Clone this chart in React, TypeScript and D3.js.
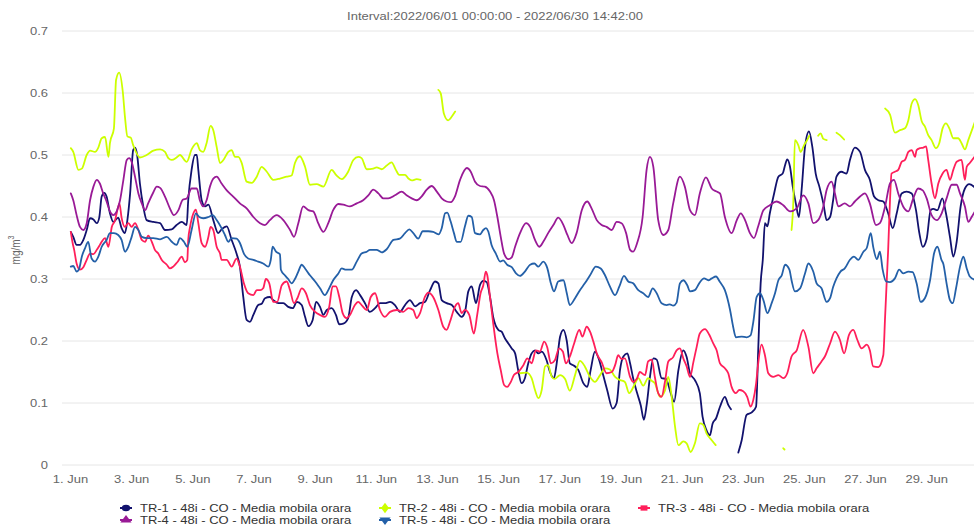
import React from "react";
import * as d3 from "d3";

type P = [number, number] | null;

const TITLE = "Interval:2022/06/01 00:00:00 - 2022/06/30 14:42:00";
const Y_TICKS = [0, 0.1, 0.2, 0.3, 0.4, 0.5, 0.6, 0.7];
const X_TICK_DAYS = [0, 2, 4, 6, 8, 10, 12, 14, 16, 18, 20, 22, 24, 26, 28];
const X_TICK_LABELS = X_TICK_DAYS.map((d) => `${d + 1}. Jun`);

const NAMES = [
  "TR-1 - 48i - CO - Media mobila orara",
  "TR-2 - 48i - CO - Media mobila orara",
  "TR-3 - 48i - CO - Media mobila orara",
  "TR-4 - 48i - CO - Media mobila orara",
  "TR-5 - 48i - CO - Media mobila orara",
];
const COLORS = ["#12126e", "#ccff00", "#ff1f5a", "#991a96", "#2460a8"];
const SYMBOLS = ["circle", "diamond", "square", "triangle", "triangle-down"];

// [day offset from 1 Jun 00:00, mg/m3]
const TR1: P[] = [[0.01,0.376],[0.09,0.368],[0.20,0.355],[0.31,0.355],[0.42,0.363],[0.53,0.379],[0.64,0.398],[0.75,0.396],[0.86,0.39],[0.94,0.399],[1.02,0.433],[1.10,0.439],[1.18,0.433],[1.29,0.406],[1.40,0.392],[1.56,0.399],[1.67,0.382],[1.78,0.374],[1.86,0.395],[1.95,0.438],[2.05,0.508],[2.11,0.512],[2.18,0.50],[2.27,0.454],[2.38,0.417],[2.49,0.395],[2.71,0.392],[2.93,0.39],[3.09,0.379],[3.31,0.38],[3.47,0.387],[3.64,0.392],[3.80,0.387],[3.85,0.427],[3.96,0.476],[4.07,0.50],[4.13,0.50],[4.18,0.476],[4.29,0.427],[4.40,0.417],[4.51,0.42],[4.67,0.395],[4.83,0.374],[4.94,0.38],[5.11,0.385],[5.27,0.363],[5.43,0.341],[5.54,0.32],[5.65,0.271],[5.76,0.234],[5.87,0.231],[5.98,0.242],[6.14,0.258],[6.25,0.26],[6.36,0.269],[6.52,0.271],[6.63,0.266],[6.80,0.261],[6.96,0.261],[7.12,0.255],[7.27,0.253],[7.40,0.263],[7.56,0.258],[7.67,0.239],[7.78,0.224],[7.92,0.234],[8.03,0.263],[8.16,0.255],[8.27,0.242],[8.38,0.25],[8.54,0.253],[8.68,0.242],[8.79,0.227],[8.92,0.228],[9.08,0.237],[9.20,0.271],[9.34,0.282],[9.47,0.274],[9.63,0.261],[9.79,0.247],[9.96,0.253],[10.12,0.261],[10.28,0.261],[10.45,0.263],[10.61,0.258],[10.77,0.247],[10.94,0.258],[11.10,0.266],[11.27,0.256],[11.43,0.261],[11.59,0.263],[11.76,0.282],[11.92,0.296],[12.03,0.293],[12.14,0.266],[12.30,0.261],[12.47,0.258],[12.63,0.247],[12.79,0.239],[12.90,0.247],[13.01,0.28],[13.12,0.288],[13.26,0.261],[13.39,0.29],[13.50,0.297],[13.61,0.295],[13.72,0.271],[13.83,0.237],[13.99,0.218],[14.10,0.215],[14.21,0.204],[14.32,0.196],[14.43,0.188],[14.54,0.18],[14.64,0.153],[14.75,0.132],[14.86,0.14],[14.97,0.164],[15.08,0.18],[15.19,0.185],[15.30,0.18],[15.41,0.183],[15.57,0.169],[15.68,0.15],[15.81,0.14],[15.90,0.164],[16.01,0.207],[16.12,0.218],[16.23,0.2],[16.33,0.164],[16.44,0.161],[16.61,0.153],[16.77,0.132],[16.90,0.126],[17.01,0.153],[17.15,0.183],[17.29,0.169],[17.42,0.145],[17.55,0.121],[17.73,0.091],[17.86,0.10],[17.97,0.153],[18.08,0.175],[18.21,0.18],[18.30,0.164],[18.40,0.14],[18.53,0.116],[18.65,0.096],[18.75,0.073],[18.84,0.096],[18.95,0.142],[19.06,0.172],[19.17,0.17],[19.33,0.14],[19.47,0.139],[19.63,0.116],[19.74,0.102],[19.88,0.153],[20.04,0.185],[20.15,0.174],[20.26,0.148],[20.42,0.137],[20.58,0.116],[20.67,0.078],[20.80,0.056],[20.91,0.048],[21.00,0.067],[21.11,0.075],[21.24,0.094],[21.40,0.11],[21.51,0.097],[21.60,0.09],null,[21.84,0.02],[21.95,0.04],[22.11,0.081],[22.28,0.085],[22.42,0.094],[22.49,0.185],[22.57,0.293],[22.64,0.331],[22.71,0.39],[22.79,0.385],[22.87,0.406],[23.01,0.438],[23.15,0.465],[23.29,0.47],[23.37,0.484],[23.44,0.493],[23.53,0.481],[23.62,0.449],[23.72,0.422],[23.82,0.40],[23.91,0.444],[24.02,0.513],[24.15,0.538],[24.26,0.513],[24.37,0.47],[24.49,0.449],[24.62,0.422],[24.73,0.395],[24.84,0.40],[24.94,0.427],[25.05,0.465],[25.21,0.473],[25.38,0.47],[25.49,0.492],[25.65,0.512],[25.82,0.505],[25.98,0.476],[26.14,0.46],[26.28,0.433],[26.42,0.427],[26.58,0.425],[26.74,0.406],[26.89,0.382],[27.02,0.406],[27.18,0.438],[27.34,0.441],[27.51,0.438],[27.65,0.411],[27.76,0.374],[27.87,0.352],[28.00,0.365],[28.13,0.411],[28.22,0.413],[28.35,0.411],[28.51,0.43],[28.63,0.406],[28.76,0.368],[28.87,0.336],[28.98,0.36],[29.11,0.417],[29.25,0.446],[29.39,0.453],[29.61,0.446]];

const TR2: P[] = [[0.01,0.511],[0.09,0.505],[0.26,0.476],[0.37,0.478],[0.53,0.50],[0.64,0.507],[0.80,0.505],[0.91,0.512],[1.02,0.527],[1.13,0.529],[1.24,0.497],[1.29,0.519],[1.42,0.543],[1.49,0.621],[1.59,0.633],[1.71,0.602],[1.78,0.562],[1.86,0.53],[1.97,0.528],[2.05,0.516],[2.27,0.496],[2.49,0.50],[2.71,0.507],[2.93,0.509],[3.09,0.505],[3.20,0.495],[3.31,0.492],[3.47,0.496],[3.58,0.50],[3.80,0.489],[3.96,0.509],[4.13,0.519],[4.23,0.508],[4.34,0.505],[4.45,0.519],[4.58,0.547],[4.67,0.54],[4.78,0.513],[4.89,0.487],[5.00,0.492],[5.16,0.505],[5.27,0.508],[5.38,0.497],[5.49,0.497],[5.60,0.487],[5.76,0.457],[5.93,0.455],[6.09,0.465],[6.25,0.481],[6.42,0.473],[6.63,0.46],[6.85,0.462],[7.07,0.465],[7.23,0.467],[7.34,0.487],[7.50,0.498],[7.67,0.481],[7.83,0.452],[8.05,0.453],[8.27,0.449],[8.54,0.476],[8.70,0.467],[8.87,0.461],[9.08,0.473],[9.25,0.492],[9.41,0.497],[9.52,0.495],[9.69,0.477],[9.90,0.478],[10.01,0.48],[10.18,0.477],[10.34,0.483],[10.50,0.488],[10.64,0.476],[10.75,0.468],[10.94,0.468],[11.05,0.462],[11.16,0.459],[11.32,0.461],[11.45,0.46],null,[12.03,0.605],[12.11,0.599],[12.21,0.567],[12.35,0.556],[12.47,0.562],[12.58,0.570],null,[14.70,0.148],[14.92,0.149],[15.08,0.14],[15.19,0.121],[15.30,0.108],[15.41,0.121],[15.52,0.159],[15.62,0.161],[15.74,0.142],[15.84,0.139],[16.01,0.145],[16.17,0.139],[16.33,0.12],[16.50,0.145],[16.66,0.168],[16.82,0.159],[16.99,0.142],[17.15,0.134],[17.32,0.145],[17.48,0.156],[17.64,0.154],[17.81,0.142],[17.97,0.137],[18.13,0.134],[18.27,0.116],[18.46,0.131],[18.57,0.14],[18.73,0.128],[18.89,0.14],[19.00,0.136],[19.11,0.132],[19.28,0.11],[19.44,0.12],[19.55,0.142],[19.66,0.11],[19.77,0.062],[19.88,0.032],[20.04,0.038],[20.15,0.035],[20.28,0.021],[20.42,0.035],[20.58,0.067],[20.69,0.065],[20.80,0.051],[20.97,0.04],[21.10,0.032],null,[23.31,0.027],[23.35,0.025],null,[23.58,0.379],[23.64,0.427],[23.69,0.524],[23.80,0.516],[23.88,0.505],[23.99,0.516],[24.09,0.524],[24.16,0.531],null,[24.45,0.531],[24.53,0.535],[24.62,0.526],[24.73,0.524],null,[25.05,0.536],[25.16,0.532],[25.30,0.525],null,[26.64,0.575],[26.80,0.565],[26.96,0.536],[27.13,0.54],[27.29,0.543],[27.40,0.556],[27.51,0.583],[27.62,0.59],[27.72,0.581],[27.84,0.554],[27.94,0.546],[28.05,0.532],[28.16,0.524],[28.30,0.511],[28.41,0.519],[28.52,0.543],[28.63,0.551],[28.74,0.543],[28.87,0.527],[29.03,0.527],[29.14,0.519],[29.25,0.509],[29.36,0.524],[29.61,0.558]];

const TR3: P[] = [[0.01,0.376],[0.07,0.358],[0.12,0.347],[0.20,0.325],[0.31,0.315],[0.42,0.319],[0.53,0.331],[0.64,0.341],[0.75,0.34],[0.86,0.347],[0.96,0.355],[1.02,0.36],[1.13,0.366],[1.24,0.352],[1.35,0.384],[1.46,0.395],[1.51,0.406],[1.60,0.422],[1.67,0.399],[1.78,0.384],[1.89,0.39],[2.00,0.384],[2.11,0.39],[2.22,0.379],[2.33,0.363],[2.44,0.36],[2.54,0.37],[2.66,0.36],[2.76,0.347],[2.87,0.341],[2.98,0.331],[3.15,0.323],[3.25,0.317],[3.36,0.32],[3.49,0.327],[3.64,0.336],[3.74,0.327],[3.82,0.331],[3.85,0.363],[3.91,0.384],[4.02,0.406],[4.10,0.412],[4.18,0.39],[4.29,0.358],[4.40,0.352],[4.51,0.368],[4.58,0.384],[4.67,0.379],[4.78,0.352],[4.89,0.341],[4.94,0.331],[5.11,0.331],[5.27,0.32],[5.43,0.333],[5.54,0.32],[5.67,0.293],[5.81,0.277],[5.98,0.274],[6.09,0.282],[6.20,0.282],[6.30,0.285],[6.39,0.30],[6.50,0.293],[6.63,0.263],[6.76,0.263],[6.91,0.29],[7.07,0.296],[7.18,0.282],[7.31,0.261],[7.42,0.269],[7.56,0.285],[7.70,0.277],[7.83,0.258],[8.00,0.247],[8.16,0.242],[8.32,0.239],[8.46,0.255],[8.57,0.288],[8.68,0.288],[8.79,0.271],[8.90,0.245],[9.03,0.237],[9.14,0.242],[9.30,0.258],[9.41,0.263],[9.52,0.258],[9.69,0.25],[9.82,0.271],[9.96,0.277],[10.12,0.25],[10.28,0.239],[10.45,0.247],[10.67,0.25],[10.88,0.247],[11.05,0.253],[11.21,0.25],[11.32,0.237],[11.43,0.245],[11.59,0.271],[11.70,0.278],[11.86,0.271],[12.03,0.25],[12.19,0.223],[12.30,0.218],[12.41,0.231],[12.57,0.255],[12.68,0.261],[12.79,0.245],[12.90,0.25],[13.04,0.242],[13.19,0.212],[13.30,0.242],[13.41,0.277],[13.50,0.29],[13.58,0.312],[13.63,0.306],[13.72,0.271],[13.81,0.234],[13.88,0.207],[13.96,0.18],[14.07,0.153],[14.18,0.129],[14.28,0.126],[14.40,0.134],[14.50,0.145],[14.64,0.15],[14.81,0.161],[14.94,0.172],[15.08,0.164],[15.22,0.185],[15.35,0.183],[15.49,0.199],[15.59,0.19],[15.71,0.164],[15.84,0.169],[15.98,0.188],[16.10,0.183],[16.20,0.164],[16.33,0.175],[16.47,0.196],[16.64,0.218],[16.74,0.207],[16.88,0.223],[16.99,0.215],[17.10,0.199],[17.21,0.18],[17.37,0.166],[17.53,0.148],[17.70,0.15],[17.81,0.161],[17.91,0.177],[18.02,0.171],[18.13,0.172],[18.30,0.142],[18.40,0.134],[18.52,0.139],[18.62,0.15],[18.79,0.145],[18.89,0.167],[19.01,0.17],[19.11,0.142],[19.22,0.116],[19.33,0.11],[19.44,0.134],[19.55,0.167],[19.71,0.174],[19.82,0.185],[19.93,0.188],[20.04,0.172],[20.15,0.159],[20.26,0.142],[20.37,0.166],[20.48,0.191],[20.58,0.212],[20.75,0.219],[20.89,0.21],[21.02,0.196],[21.13,0.185],[21.24,0.164],[21.40,0.156],[21.51,0.148],[21.62,0.126],[21.76,0.116],[21.87,0.121],[22.00,0.119],[22.13,0.11],[22.24,0.094],[22.33,0.105],[22.42,0.131],[22.49,0.164],[22.60,0.194],[22.71,0.177],[22.82,0.148],[22.98,0.142],[23.15,0.145],[23.31,0.14],[23.44,0.148],[23.58,0.175],[23.75,0.185],[23.96,0.218],[24.13,0.191],[24.29,0.148],[24.40,0.156],[24.56,0.167],[24.67,0.175],[24.84,0.196],[25.00,0.215],[25.16,0.202],[25.30,0.18],[25.46,0.21],[25.60,0.218],[25.73,0.202],[25.87,0.188],[26.04,0.194],[26.14,0.185],[26.25,0.159],[26.42,0.158],[26.58,0.177],[26.64,0.239],[26.70,0.304],[26.74,0.347],[26.80,0.427],[26.85,0.47],[26.96,0.473],[27.07,0.476],[27.18,0.489],[27.29,0.492],[27.40,0.505],[27.51,0.508],[27.62,0.497],[27.67,0.508],[27.78,0.511],[27.89,0.512],[27.98,0.514],[28.05,0.492],[28.16,0.454],[28.27,0.43],[28.38,0.454],[28.52,0.47],[28.65,0.476],[28.76,0.46],[28.87,0.476],[28.98,0.489],[29.14,0.492],[29.25,0.46],[29.31,0.481],[29.41,0.487],[29.61,0.50]];

const TR4: P[] = [[0.01,0.438],[0.09,0.427],[0.20,0.403],[0.31,0.384],[0.42,0.379],[0.53,0.39],[0.64,0.427],[0.75,0.449],[0.86,0.46],[0.96,0.454],[1.07,0.438],[1.18,0.425],[1.29,0.409],[1.40,0.403],[1.51,0.409],[1.62,0.427],[1.73,0.46],[1.84,0.492],[1.92,0.495],[2.00,0.489],[2.11,0.465],[2.22,0.438],[2.33,0.422],[2.44,0.411],[2.54,0.422],[2.71,0.44],[2.82,0.449],[2.93,0.447],[3.09,0.433],[3.25,0.414],[3.38,0.403],[3.53,0.411],[3.67,0.428],[3.80,0.43],[3.96,0.446],[4.13,0.446],[4.23,0.427],[4.34,0.417],[4.45,0.427],[4.56,0.449],[4.67,0.462],[4.78,0.465],[4.94,0.454],[5.11,0.443],[5.32,0.433],[5.54,0.422],[5.76,0.414],[5.98,0.40],[6.20,0.39],[6.36,0.387],[6.52,0.395],[6.74,0.403],[6.96,0.395],[7.18,0.379],[7.31,0.368],[7.45,0.39],[7.61,0.417],[7.78,0.411],[7.94,0.409],[8.10,0.39],[8.27,0.376],[8.43,0.39],[8.59,0.411],[8.76,0.421],[8.92,0.42],[9.14,0.417],[9.36,0.422],[9.57,0.427],[9.74,0.435],[9.90,0.444],[10.07,0.438],[10.23,0.43],[10.39,0.43],[10.61,0.435],[10.83,0.441],[10.99,0.435],[11.16,0.43],[11.32,0.427],[11.48,0.433],[11.65,0.444],[11.81,0.45],[11.98,0.441],[12.14,0.43],[12.30,0.425],[12.44,0.424],[12.57,0.433],[12.74,0.46],[12.96,0.479],[13.09,0.473],[13.23,0.457],[13.39,0.45],[13.55,0.449],[13.72,0.441],[13.85,0.427],[13.96,0.40],[14.07,0.368],[14.18,0.341],[14.32,0.332],[14.43,0.335],[14.54,0.352],[14.70,0.374],[14.90,0.39],[15.03,0.384],[15.19,0.363],[15.33,0.352],[15.46,0.36],[15.62,0.374],[15.79,0.387],[15.95,0.399],[16.12,0.387],[16.25,0.371],[16.39,0.358],[16.55,0.374],[16.72,0.411],[16.90,0.425],[17.04,0.414],[17.21,0.395],[17.37,0.387],[17.53,0.384],[17.70,0.379],[17.86,0.392],[18.02,0.39],[18.17,0.374],[18.30,0.347],[18.40,0.344],[18.53,0.358],[18.71,0.40],[18.84,0.476],[18.95,0.497],[19.06,0.481],[19.22,0.395],[19.39,0.371],[19.55,0.379],[19.71,0.422],[19.93,0.465],[20.09,0.449],[20.26,0.411],[20.42,0.403],[20.58,0.438],[20.78,0.464],[20.97,0.446],[21.13,0.441],[21.24,0.438],[21.40,0.40],[21.62,0.374],[21.79,0.395],[21.92,0.406],[22.06,0.395],[22.22,0.374],[22.35,0.366],[22.49,0.385],[22.66,0.411],[22.87,0.419],[23.09,0.425],[23.31,0.419],[23.53,0.409],[23.75,0.414],[23.96,0.435],[24.13,0.422],[24.29,0.39],[24.45,0.395],[24.62,0.417],[24.73,0.444],[24.89,0.457],[25.00,0.438],[25.11,0.417],[25.32,0.422],[25.49,0.417],[25.65,0.425],[25.82,0.433],[25.98,0.438],[26.14,0.422],[26.34,0.387],[26.47,0.39],[26.64,0.417],[26.80,0.454],[26.93,0.46],[27.07,0.438],[27.23,0.417],[27.40,0.409],[27.56,0.43],[27.72,0.446],[27.87,0.443],[28.00,0.43],[28.16,0.403],[28.33,0.395],[28.49,0.406],[28.65,0.43],[28.82,0.452],[28.98,0.452],[29.09,0.438],[29.25,0.417],[29.36,0.392],[29.47,0.40],[29.61,0.412]];

const TR5: P[] = [[0.01,0.32],[0.09,0.321],[0.20,0.312],[0.28,0.316],[0.37,0.336],[0.47,0.349],[0.58,0.36],[0.69,0.333],[0.80,0.328],[0.91,0.336],[1.02,0.352],[1.18,0.363],[1.29,0.374],[1.42,0.374],[1.56,0.371],[1.67,0.363],[1.78,0.344],[1.89,0.352],[2.00,0.368],[2.11,0.384],[2.22,0.379],[2.33,0.368],[2.49,0.366],[2.71,0.366],[2.93,0.364],[3.15,0.368],[3.31,0.36],[3.47,0.355],[3.58,0.366],[3.71,0.36],[3.82,0.352],[3.96,0.379],[4.10,0.406],[4.21,0.40],[4.34,0.398],[4.51,0.40],[4.65,0.403],[4.78,0.395],[4.94,0.382],[5.05,0.371],[5.16,0.36],[5.27,0.366],[5.43,0.365],[5.54,0.358],[5.67,0.341],[5.81,0.333],[5.98,0.331],[6.14,0.328],[6.30,0.325],[6.47,0.32],[6.55,0.331],[6.61,0.352],[6.72,0.344],[6.85,0.34],[6.88,0.315],[7.01,0.306],[7.12,0.30],[7.23,0.293],[7.34,0.30],[7.45,0.312],[7.56,0.323],[7.67,0.317],[7.83,0.306],[8.00,0.296],[8.16,0.285],[8.32,0.274],[8.43,0.282],[8.59,0.298],[8.76,0.309],[8.87,0.317],[9.01,0.315],[9.20,0.315],[9.36,0.328],[9.52,0.341],[9.69,0.344],[9.79,0.347],[10.01,0.347],[10.18,0.343],[10.34,0.348],[10.56,0.363],[10.77,0.365],[10.94,0.374],[11.08,0.38],[11.21,0.374],[11.37,0.365],[11.52,0.377],[11.70,0.377],[11.86,0.376],[12.03,0.372],[12.14,0.382],[12.25,0.406],[12.32,0.407],[12.43,0.393],[12.54,0.374],[12.63,0.36],[12.76,0.36],[12.90,0.385],[13.01,0.402],[13.12,0.40],[13.23,0.374],[13.39,0.372],[13.50,0.379],[13.59,0.382],[13.66,0.377],[13.77,0.355],[13.91,0.341],[14.05,0.328],[14.15,0.33],[14.28,0.323],[14.43,0.319],[14.57,0.309],[14.70,0.305],[14.86,0.312],[15.03,0.323],[15.17,0.325],[15.30,0.32],[15.46,0.328],[15.59,0.318],[15.71,0.293],[15.81,0.28],[15.95,0.296],[16.12,0.298],[16.23,0.277],[16.33,0.258],[16.50,0.269],[16.66,0.282],[16.82,0.293],[16.99,0.306],[17.18,0.32],[17.34,0.317],[17.48,0.306],[17.64,0.288],[17.81,0.274],[17.95,0.288],[18.10,0.305],[18.24,0.296],[18.40,0.293],[18.57,0.282],[18.73,0.277],[18.89,0.271],[19.04,0.285],[19.17,0.277],[19.33,0.261],[19.50,0.258],[19.60,0.259],[19.71,0.257],[19.82,0.262],[19.93,0.293],[20.04,0.298],[20.17,0.29],[20.26,0.28],[20.42,0.282],[20.56,0.293],[20.72,0.301],[20.86,0.298],[20.97,0.301],[21.11,0.304],[21.24,0.295],[21.40,0.282],[21.57,0.25],[21.67,0.223],[21.76,0.206],[21.95,0.207],[22.11,0.206],[22.24,0.209],[22.33,0.231],[22.44,0.271],[22.55,0.277],[22.66,0.266],[22.79,0.245],[22.93,0.261],[23.04,0.277],[23.15,0.298],[23.26,0.306],[23.37,0.323],[23.51,0.315],[23.58,0.298],[23.69,0.28],[23.86,0.285],[24.02,0.309],[24.13,0.325],[24.29,0.312],[24.40,0.293],[24.56,0.285],[24.73,0.263],[24.84,0.269],[24.94,0.287],[25.05,0.301],[25.18,0.312],[25.32,0.317],[25.49,0.331],[25.62,0.336],[25.76,0.331],[25.93,0.344],[26.04,0.35],[26.17,0.374],[26.25,0.352],[26.37,0.332],[26.47,0.344],[26.56,0.315],[26.67,0.296],[26.80,0.295],[26.96,0.301],[27.10,0.315],[27.23,0.309],[27.40,0.312],[27.54,0.311],[27.67,0.293],[27.80,0.263],[27.94,0.269],[28.11,0.298],[28.24,0.341],[28.35,0.352],[28.49,0.33],[28.54,0.325],[28.65,0.293],[28.76,0.266],[28.85,0.261],[28.96,0.285],[29.09,0.32],[29.20,0.336],[29.31,0.317],[29.41,0.304],[29.61,0.298]];

const SERIES = [TR1, TR2, TR3, TR4, TR5];

const W = 974;
const H = 529;
const PL = 62;
const PR = 976;
const PT = 31;
const PB = 465;
const SX = 1.3;
const FONT = "'Liberation Sans', Arial, Helvetica, sans-serif";

function ST(props: { x: number; y: number; anchor?: string; size?: number; fill?: string; children: React.ReactNode; rotate?: boolean }) {
  const { x, y, anchor = "start", size = 10, fill = "#666666", children, rotate } = props;
  return (
    <text
      transform={`translate(${x},${y}) scale(${SX},1)${rotate ? " rotate(-90)" : ""}`}
      textAnchor={anchor as any}
      dy="0.35em"
      fontSize={size}
      fill={fill}
      fontFamily={FONT}
    >
      {children}
    </text>
  );
}

export default function App() {
  const x = d3.scaleLinear().domain([-0.278, 29.6125]).range([PL, PR]);
  const y = d3.scaleLinear().domain([0, 0.7]).range([PB, PT]);

  const line = d3
    .line<P>()
    .defined((d) => d !== null)
    .x((d) => x((d as [number, number])[0]))
    .y((d) => y((d as [number, number])[1]))
    .curve(d3.curveMonotoneX);

  const symbolPath = (kind: string) => {
    const map: Record<string, d3.SymbolType> = {
      circle: d3.symbolCircle,
      diamond: d3.symbolDiamond,
      square: d3.symbolSquare,
      triangle: d3.symbolTriangle,
      "triangle-down": d3.symbolTriangle,
    };
    return d3.symbol().type(map[kind]).size(kind === "square" ? 28 : 32)() || "";
  };

  const legendCols = [140, 399, 658];
  const legendRows = [508, 520];

  return (
    <svg
      width={W}
      height={H}
      style={{ position: "absolute", left: 0, top: 0, background: "#ffffff" }}
    >
      <defs>
        <clipPath id="plotclip">
          <rect x={PL} y={PT - 10} width={PR - PL} height={PB - PT + 12} />
        </clipPath>
      </defs>
      <rect x={0} y={0} width={W} height={H} fill="#ffffff" />
      <ST x={495} y={16} anchor="middle" size={10} fill="#666666">{TITLE}</ST>

      {Y_TICKS.map((t) => (
        <g key={t}>
          <line x1={PL} x2={PR} y1={y(t)} y2={y(t)} stroke="#e6e6e6" strokeWidth={1} />
          <ST x={48} y={y(t)} anchor="end" size={10} fill="#666666">{t === 0 ? "0" : t.toFixed(1)}</ST>
        </g>
      ))}
      <ST x={15} y={250} anchor="middle" size={10} fill="#666666" rotate>
        mg/m<tspan fontSize={7} dy="-4">3</tspan>
      </ST>

      {X_TICK_DAYS.map((d, i) => (
        <ST key={d} x={x(d)} y={479} anchor="middle" size={10} fill="#666666">{X_TICK_LABELS[i]}</ST>
      ))}

      <g clipPath="url(#plotclip)">
        {SERIES.map((s, i) => (
          <path
            key={i}
            d={line(s) || ""}
            fill="none"
            stroke={COLORS[i]}
            strokeWidth={1.8}
            strokeLinejoin="round"
            strokeLinecap="round"
          />
        ))}
      </g>

      {NAMES.map((name, i) => {
        const col = i < 3 ? i : i - 3;
        const row = i < 3 ? 0 : 1;
        const tx = legendCols[col];
        const ty = legendRows[row];
        const sx = tx - 14;
        return (
          <g key={name}>
            <line x1={sx - 6} x2={sx + 6} y1={ty} y2={ty} stroke={COLORS[i]} strokeWidth={2} />
            <path
              d={symbolPath(SYMBOLS[i])}
              transform={`translate(${sx},${ty}) scale(${SX},1)${SYMBOLS[i] === "triangle-down" ? " rotate(180)" : ""}`}
              fill={COLORS[i]}
            />
            <ST x={tx} y={ty} size={10} fill="#333333">{name}</ST>
          </g>
        );
      })}
    </svg>
  );
}
